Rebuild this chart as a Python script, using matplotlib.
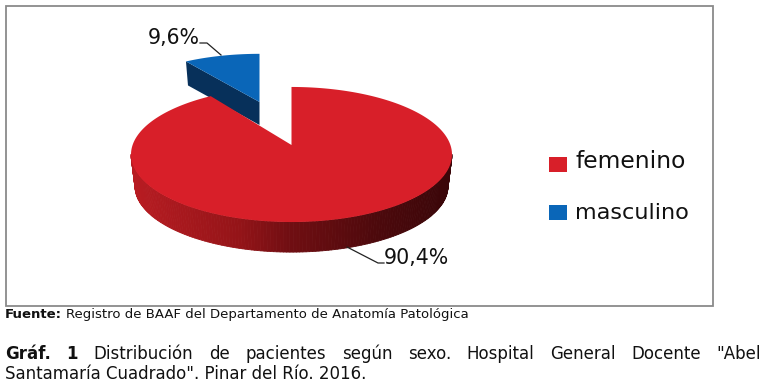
import numpy as np
import matplotlib
matplotlib.use("Agg")
import matplotlib.pyplot as plt
from matplotlib.collections import PolyCollection
from matplotlib.colors import LinearSegmentedColormap
from matplotlib.patches import Polygon, Rectangle

sexos = ["femenino", "masculino"]
porcentajes = [90.4, 9.6]
etiquetas = ["90,4%", "9,6%"]
colores = ["#d81f29", "#0a66b8"]

fuente_neg = "Fuente:"
fuente_txt = "Registro de BAAF del Departamento de Anatomía Patológica"
linea1 = ["Gráf.", "1", "Distribución", "de", "pacientes", "según", "sexo.", "Hospital", "General", "Docente", '"Abel']
linea2 = 'Santamaría Cuadrado". Pinar del Río. 2016.'

fig = plt.figure(figsize=(7.66, 3.88), dpi=100)
ax = fig.add_axes([0, 0, 1, 1])
ax.set_xlim(0, 766)
ax.set_ylim(388, 0)
ax.axis("off")
renderer = fig.canvas.get_renderer()

ax.add_patch(Rectangle((5.5, 5.5), 707, 300, fc="white", ec="#8a8a8a", lw=1.3))

# pie geometry in pixels, circle seen in perspective
apex = np.array([291.5, 145])
apex_azul = np.array([259.5, 102])
rx, ry, pk = 158.9, 66.2, 0.1406
esc_azul = np.array([0.91, 0.83])
fondo = 32


def punto(t, prof=0):
    k = 1 - 0.025 * prof / fondo
    d = 1 + pk * np.cos(t)
    return np.column_stack([apex[0] + k * rx * np.sin(t) / d, apex[1] + prof - k * ry * np.cos(t) / d])


fin_rojo = 2 * np.pi * porcentajes[0] / 100

# blue slice first, the red one covers its foot
t = np.linspace(fin_rojo, 2 * np.pi, 40)
arco = apex_azul + esc_azul * (punto(t) - apex)
lado = np.array([arco[0], apex_azul, apex_azul + [0, 23], arco[0] + [2, 24]])
ax.add_patch(Polygon(lado, fc="#07305a", ec="none"))
ax.add_patch(Polygon(np.vstack([apex_azul, arco]), fc=colores[1], ec="none"))

# side of the red slice
grad = LinearSegmentedColormap.from_list(
    "lado", [(0, "#b81c22"), (0.34, "#941418"), (0.5, "#700e12"), (0.78, "#4c090c"), (1, "#3a0609")]
)
ts = np.radians(np.linspace(98, 262, 160))
arriba = punto(ts)
abajo = punto(ts, fondo)
quads = [[arriba[i], arriba[i + 1], abajo[i + 1], abajo[i]] for i in range(len(ts) - 1)]
vals = (arriba[:-1, 0] - (apex[0] - 160.5)) / 321
ax.add_collection(PolyCollection(quads, facecolors=grad(vals), edgecolors=grad(vals), linewidths=0.6))

t = np.linspace(0, fin_rojo, 300)
ax.add_patch(Polygon(np.vstack([apex, punto(t)]), fc=colores[0], ec="none"))

# labels and leader lines
ax.plot([200, 207, 221], [43, 43, 55], color="#222222", lw=0.9)
ax.plot([347, 378, 384], [247, 263, 263], color="#222222", lw=0.9)
ax.text(416.5, 264, etiquetas[0], fontsize=14.8, ha="center", va="baseline", color="#111111", fontweight="medium")
ax.text(173.5, 44, etiquetas[1], fontsize=14.8, ha="center", va="baseline", color="#111111", fontweight="medium")

# legend
ys = [164, 212.5]
bases = [167.5, 219]
tamanos = [16.8, 16.1]
for nombre, color, y, b, tam in zip(sexos, colores, ys, bases, tamanos):
    ax.add_patch(Rectangle((548.5, y - 7.5), 18, 15, fc=color, ec="none"))
    ax.text(575, b, nombre, fontsize=tam, va="baseline", color="#111111")

# footer
ft = ax.text(5, 318, fuente_neg, fontsize=9.5, fontweight="bold", va="baseline", color="#111111")
x_fin = ft.get_window_extent(renderer).x1
ax.text(x_fin + 4, 318, fuente_txt, fontsize=9.5, va="baseline", color="#111111")

# justified first caption line
objs = []
for i, pal in enumerate(linea1):
    peso = "bold" if i < 2 else "normal"
    objs.append(ax.text(0, 359, pal, fontsize=12, fontweight=peso, va="baseline", color="#111111"))
anchos = [o.get_window_extent(renderer).width for o in objs]
hueco = (761 - 5 - sum(anchos)) / (len(objs) - 1)
x = 5
for o, w in zip(objs, anchos):
    o.set_x(x)
    x += w + hueco
ax.text(5, 379, linea2, fontsize=12, va="baseline", color="#111111")

fig.savefig("out.png", dpi=100, facecolor="white")
